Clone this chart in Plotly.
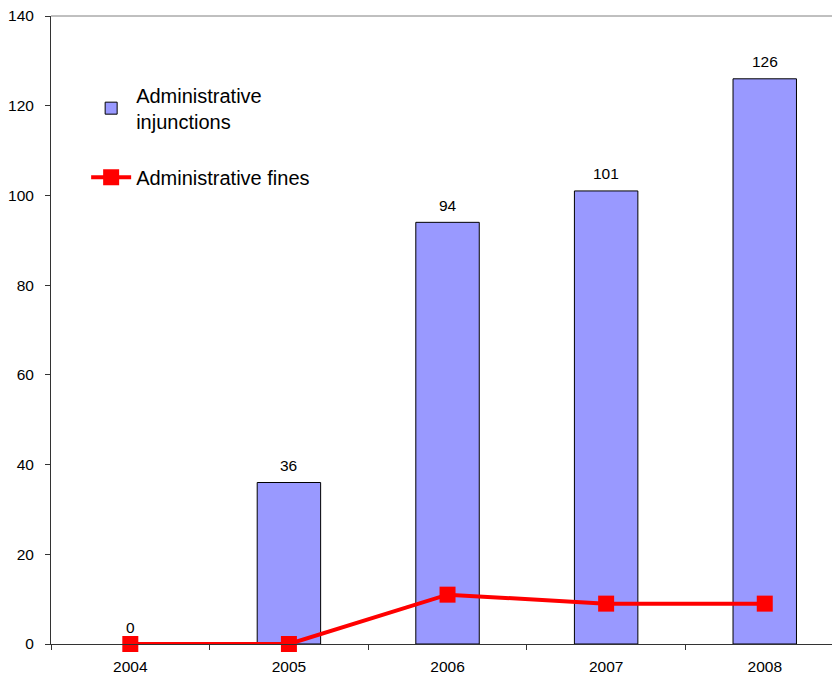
import plotly.graph_objects as go

years = ["2004", "2005", "2006", "2007", "2008"]
injunctions = [0, 36, 94, 101, 126]
fines = [0, 0, 11, 9, 9]
y_ticks = [0, 20, 40, 60, 80, 100, 120, 140]

FONT = "Liberation Sans, Arial, sans-serif"
TICK_SIZE = 15.5
BAR_COLOR = "#9999FF"

fig = go.Figure()
fig.add_trace(go.Bar(
    x=years, y=injunctions, name="Administrative<br>injunctions",
    legendgroup="inj", showlegend=False,
    marker=dict(color=BAR_COLOR,
                line=dict(color="#000000", width=[0 if v == 0 else 1 for v in injunctions])),
    width=0.4,
))
# legend entry for the bars (same group, no data of its own)
fig.add_trace(go.Bar(
    x=[None], y=[None], name="Administrative<br>injunctions",
    legendgroup="inj", showlegend=True,
    marker=dict(color=BAR_COLOR, line=dict(color="#000000", width=1)),
))
fig.add_trace(go.Scatter(
    x=years, y=fines, name="Administrative fines", mode="lines+markers",
    legendgroup="fin",
    line=dict(color="#FF0000", width=4),
    marker=dict(symbol="square", size=16, color="#FF0000"),
    cliponaxis=False,
))

for i, v in enumerate(injunctions):
    fig.add_annotation(x=i, y=v, xref="x", yref="y", text=str(v), showarrow=False,
                       yshift=17, font=dict(family=FONT, size=TICK_SIZE, color="#000000"))

fig.update_layout(
    width=832, height=675,
    margin=dict(l=51, r=0, t=16, b=31),
    paper_bgcolor="white", plot_bgcolor="white",
    font=dict(family=FONT, size=TICK_SIZE, color="#000000"),
    showlegend=True,
    barmode="overlay",
    legend=dict(
        x=0.045, y=0.905, xanchor="left", yanchor="top",
        font=dict(family=FONT, size=20, color="#000000"),
        bgcolor="rgba(0,0,0,0)", tracegroupgap=27, itemwidth=40,
        traceorder="grouped",
    ),
    xaxis=dict(
        type="category", categoryorder="array", categoryarray=years,
        range=[-0.5, 4.424],
        showline=True, linecolor="#333333", linewidth=1,
        ticks="outside", ticklen=5, tickcolor="#333333",
        tickson="boundaries", showgrid=False,
        ticklabelstandoff=8,
        tickfont=dict(size=TICK_SIZE),
    ),
    yaxis=dict(
        range=[0, 140], tickvals=y_ticks, showgrid=False, zeroline=False,
        showline=True, linecolor="#333333", linewidth=1,
        ticks="outside", ticklen=5, tickcolor="#333333",
        ticklabelstandoff=8,
        tickfont=dict(size=TICK_SIZE),
    ),
    shapes=[dict(type="line", xref="paper", yref="paper", x0=0, x1=1, y0=1, y1=1,
                 line=dict(color="#808080", width=1))],
)

fig.write_html("out.html")
